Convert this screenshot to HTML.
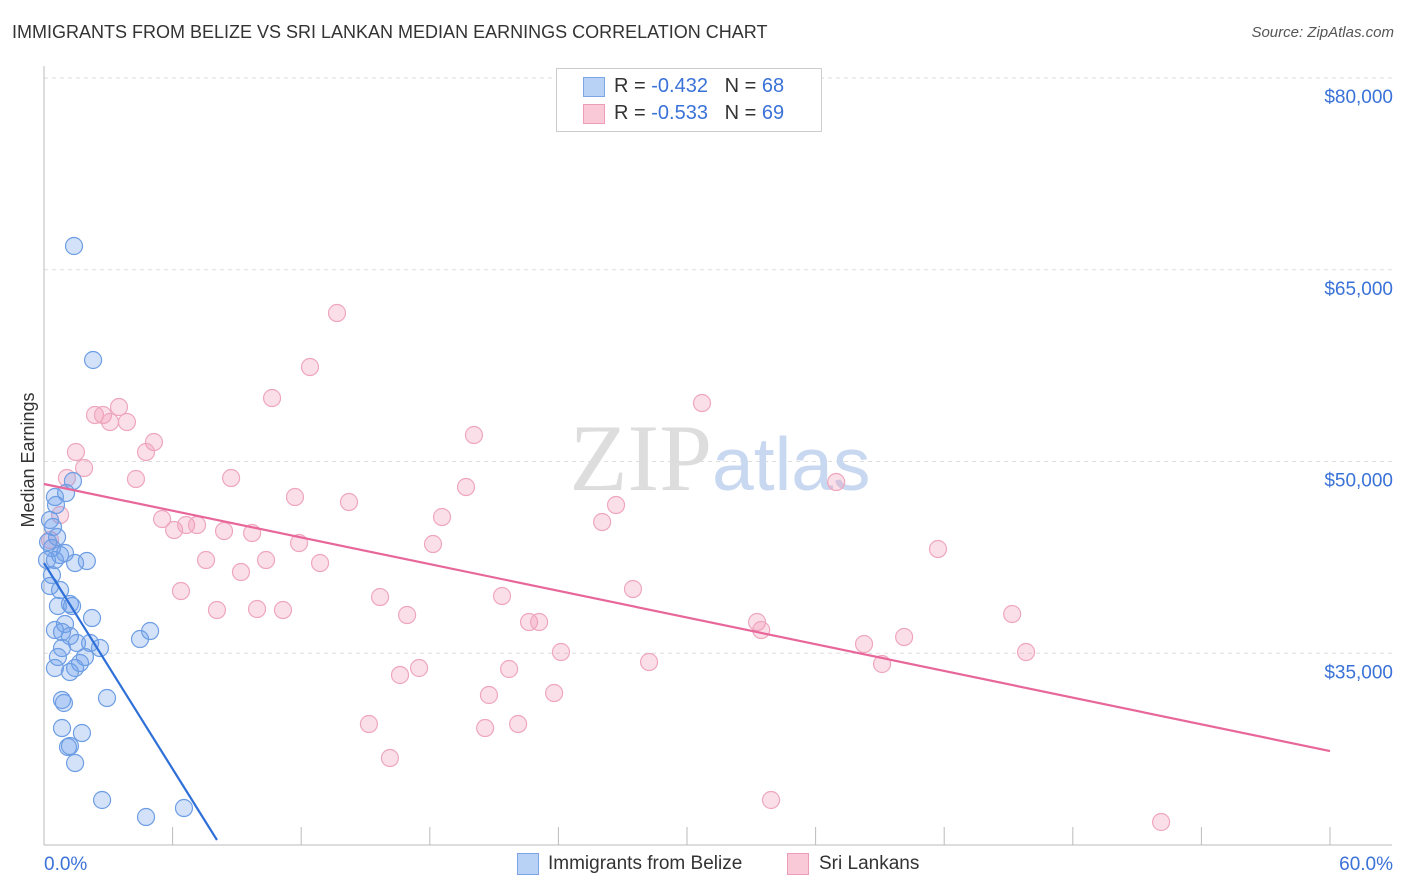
<!DOCTYPE html>
<html><head><meta charset="utf-8">
<style>
body{margin:0;background:#fff;font-family:"Liberation Sans",sans-serif;}
#wrap{position:relative;width:1406px;height:892px;overflow:hidden;}
.t{position:absolute;white-space:nowrap;}
</style></head>
<body>
<div id="wrap">
<div class="t" style="left:12px;top:22px;font-size:18px;color:#333;">IMMIGRANTS FROM BELIZE VS SRI LANKAN MEDIAN EARNINGS CORRELATION CHART</div>
<div class="t" style="right:12px;top:24px;font-size:15px;color:#555;font-style:italic;">Source: ZipAtlas.com</div>
<svg id="svg" width="1406" height="892" style="position:absolute;left:0;top:0"></svg>
</div>
<script>
const yTicks=[80000,65000,50000,35000];
const yTickLabels=["$80,000","$65,000","$50,000","$35,000"];
const xTickLabels=["0.0%","60.0%"];
const blueX=[1.4,2.29,1.03,1.35,0.51,0.56,0.28,0.42,0.61,0.37,0.75,0.98,0.51,2.0,1.45,0.28,0.75,0.65,1.21,1.31,2.24,0.98,0.84,0.51,1.21,1.54,0.84,2.15,2.61,4.48,4.95,0.65,1.91,1.68,1.45,0.51,1.21,0.84,0.93,2.94,0.84,1.77,1.12,1.21,1.45,2.71,4.76,6.53,0.19,0.14,0.37];
const blueY=[66858,57940,47535,48473,47222,46596,45423,44875,44093,43232,42685,42841,42294,42215,42059,40260,39947,38695,38851,38695,37756,37287,36661,36818,36348,35801,35410,35801,35410,36114,36740,34706,34706,34237,33846,33846,33533,31343,31108,31499,29152,28761,27666,27744,26414,23520,22190,22894,43702,42294,41119];
const pinkX=[13.67,12.41,10.64,30.70,3.50,2.38,2.75,3.08,3.87,20.06,5.13,4.76,1.49,1.87,1.07,4.29,8.73,36.96,19.69,11.71,14.23,26.69,0.75,5.51,18.57,26.04,6.07,6.63,7.14,8.40,9.71,11.90,18.15,41.71,7.56,10.36,12.88,9.19,6.39,27.48,15.68,21.37,8.07,9.94,11.15,16.94,45.17,22.63,23.10,33.27,33.46,40.13,38.26,24.12,45.82,28.23,39.10,17.50,21.70,16.61,20.76,23.80,15.16,20.58,22.12,16.14,33.92,52.12,0.28];
const pinkY=[61616,57391,54966,54575,54262,53636,53636,53089,53089,52072,51524,50742,50742,49490,48708,48630,48708,48395,48004,47222,46831,46596,45814,45501,45657,45266,44640,45031,45031,44562,44405,43623,43545,43154,42294,42294,42059,41354,39869,40025,39399,39477,38382,38460,38382,37991,38069,37443,37443,37443,36818,36270,35723,35097,35097,34315,34159,33846,33768,33299,31734,31890,29465,29152,29465,26805,23520,21799,43858];
const blueTrend=[0,42059,8.07,20391];
const pinkTrend=[0,48239,60,27351];

const X0=44,X1=1330,Y0=845,Y1=78;
const sx=v=>X0+v/60*(X1-X0);
const sy=v=>Y0-(v-20000)/60000*(Y0-Y1);
const svg=document.getElementById('svg');
const NS='http://www.w3.org/2000/svg';
function mk(t,a){const e=document.createElementNS(NS,t);for(const k in a)e.setAttribute(k,a[k]);svg.appendChild(e);return e;}
// grid
yTicks.forEach((v,i)=>{
 const g=mk('line',{x1:X0,x2:1392,y1:sy(v),y2:sy(v),stroke:'#ddd','stroke-dasharray':'4,4'});
 
 
 const t=mk('text',{x:1393,y:sy(v)+25,'text-anchor':'end','font-size':19,fill:'#3a72d8','font-family':'Liberation Sans, sans-serif'});
 t.textContent=yTickLabels[i];
 
 
});
let ax=mk('line',{x1:X0,x2:X0,y1:66,y2:Y0,stroke:'#bbb'});


let bx=mk('line',{x1:X0,x2:1392,y1:Y0,y2:Y0,stroke:'#bbb'});


for(let i=0;i<=10;i++){
 const tk=mk('line',{x1:sx(i*6),x2:sx(i*6),y1:Y0,y2:Y0-18,stroke:'#bbb'});
 
 
}
[[0,'start',X0],[1,'end',1393]].forEach(([i,a,x])=>{
 const t=mk('text',{x:x,y:870,'text-anchor':a,'font-size':19,fill:'#3a72d8','font-family':'Liberation Sans, sans-serif'});
 t.textContent=xTickLabels[i];
 
 
});
const yt=mk('text',{x:34,y:460,transform:'rotate(-90 34 460)','text-anchor':'middle','font-size':18,fill:'#333','font-family':'Liberation Sans, sans-serif'});
yt.textContent='Median Earnings';


// watermark
const w=mk('text',{x:720,y:490,'text-anchor':'middle','font-size':95,fill:'#ddd','font-family':'Liberation Serif, serif'});
w.innerHTML='ZIP<tspan fill="#c8d8f0" font-family="Liberation Sans, sans-serif" font-size="75">atlas</tspan>';


// points
pinkX.forEach((x,i)=>{
 const c=mk('circle',{cx:sx(x),cy:sy(pinkY[i]),r:8.5,fill:'rgba(242,150,180,0.3)',stroke:'#eea6bd','stroke-width':1.2});
 
 
});
blueX.forEach((x,i)=>{
 const c=mk('circle',{cx:sx(x),cy:sy(blueY[i]),r:8.5,fill:'rgba(110,160,235,0.3)',stroke:'#6d9de3','stroke-width':1.2});
 
 
});
const bl=mk('line',{x1:sx(blueTrend[0]),y1:sy(blueTrend[1]),x2:sx(blueTrend[2]),y2:sy(blueTrend[3]),stroke:'#2f6fd8','stroke-width':2.2});


const pl=mk('line',{x1:sx(pinkTrend[0]),y1:sy(pinkTrend[1]),x2:sx(pinkTrend[2]),y2:sy(pinkTrend[3]),stroke:'#e8679a','stroke-width':2.2});


</script>
<div class="t" style="left:556px;top:68px;width:264px;height:62px;border:1px solid #ccc;background:#fff;">
 <div class="t" style="left:26px;top:8px;width:20px;height:18px;background:#b8d2f6;border:1px solid #7aa6e6;"></div>
 <div class="t" style="left:57px;top:6px;font-size:20px;color:#333;">R = <span style="color:#3a72d8">-0.432</span>&nbsp;&nbsp;&nbsp;N = <span style="color:#3a72d8">68</span></div>
 <div class="t" style="left:26px;top:35px;width:20px;height:18px;background:#f9c9d8;border:1px solid #ee9db8;"></div>
 <div class="t" style="left:57px;top:33px;font-size:20px;color:#333;">R = <span style="color:#3a72d8">-0.533</span>&nbsp;&nbsp;&nbsp;N = <span style="color:#3a72d8">69</span></div>
</div>
<div class="t" style="left:517px;top:853px;width:20px;height:20px;background:#b8d2f6;border:1px solid #7aa6e6;"></div>
<div class="t" style="left:548px;top:853px;font-size:19px;color:#333;">Immigrants from Belize</div>
<div class="t" style="left:787px;top:853px;width:20px;height:20px;background:#f9c9d8;border:1px solid #ee9db8;"></div>
<div class="t" style="left:819px;top:853px;font-size:19px;color:#333;">Sri Lankans</div>
</body></html>
